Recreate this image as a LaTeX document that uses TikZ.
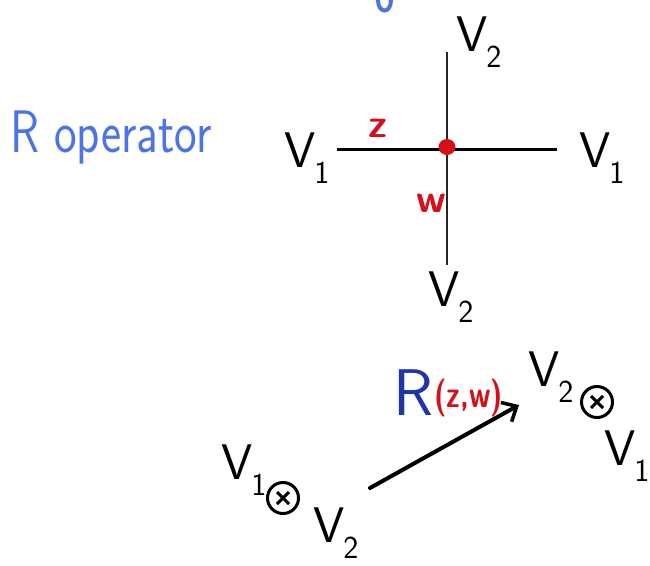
\documentclass[tikz,border=0pt]{standalone}
\usetikzlibrary{arrows.meta,calc}
\definecolor{lightblue}{HTML}{4A74E8}
\definecolor{darkblue}{HTML}{1F35A8}
\definecolor{redink}{HTML}{D4111B}
\newcommand\vsub[1]{{\sffamily\fontsize{50}{50}\selectfont V\kern-1pt\raisebox{-16pt}{\fontsize{32}{32}\selectfont #1}}}
\begin{document}
\begin{tikzpicture}[x=1pt,y=-1pt,
  lab/.style={inner sep=0pt,anchor=base west},
  redlab/.style={inner sep=0pt,text=redink,font=\sffamily\bfseries\fontsize{40}{40}\selectfont},
  thinline/.style={line width=1.6pt,black!85},
  thickline/.style={line width=3pt},
  tensor/.style={circle,draw,line width=3pt,minimum size=31pt,inner sep=0pt},
  bigarrow/.style={line width=4pt,-{Straight Barb[length=12pt,width=22pt,line width=3.5pt]},line cap=round}]
\useasboundingbox (0,0) rectangle (650,565);
% cut-off blue stroke at the top
\draw[lightblue,line width=4pt,line cap=round] (378,0) .. controls (378,14) and (391,14) .. (391,0);
% title
\node[lab,text=lightblue] (title) at (10,152) {\sffamily\fontsize{60}{60}\selectfont\scalebox{0.8}[1]{R operator}};
% cross
\coordinate (top) at (447,52);
\coordinate (bot) at (447,265);
\coordinate (lft) at (337,149);
\coordinate (rgt) at (557,149);
\coordinate (c) at (447,147);
\draw[thinline] (top) -- (bot);
\draw[thickline] (lft) -- (rgt);
\fill[redink] (c) ellipse (8.5pt and 8pt);
\node[redlab] (z) at (378,128) {z};
\node[redlab] (w) at (431,203) {w};
\node[lab] (v2t) at (456,51) {\vsub{2}};
\node[lab] (v1l) at (284,167) {\vsub{1}};
\node[lab] (v1r) at (579,167) {\vsub{1}};
\node[lab] (v2b) at (428,306) {\vsub{2}};
% lower part
\node[lab,text=darkblue] (R) at (393,415) {\sffamily\fontsize{66}{66}\selectfont R};
\node[lab,text=redink] (zw) at (434,407) {\sffamily\bfseries\fontsize{38}{38}\selectfont\scalebox{0.76}[1]{(z,w)}};
\node[lab] (v2r) at (528,386) {\vsub{2}};
\node[tensor] (t2) at (597,402) {};
\draw[line width=3pt] ($(t2)+(-6,-6)$) -- ($(t2)+(6,6)$) ($(t2)+(6,-6)$) -- ($(t2)+(-6,6)$);
\node[lab] (v1rr) at (604,465) {\vsub{1}};
\node[lab] (v1ll) at (221,479) {\vsub{1}};
\node[tensor] (t1) at (283,498) {};
\draw[line width=3pt] ($(t1)+(-6,-6)$) -- ($(t1)+(6,6)$) ($(t1)+(6,-6)$) -- ($(t1)+(-6,6)$);
\node[lab] (v2l) at (313,542) {\vsub{2}};
\coordinate (a1) at (370,488);
\coordinate (a2) at (519,405);
\draw[bigarrow] (a1) -- (a2);
\end{tikzpicture}
\end{document}
